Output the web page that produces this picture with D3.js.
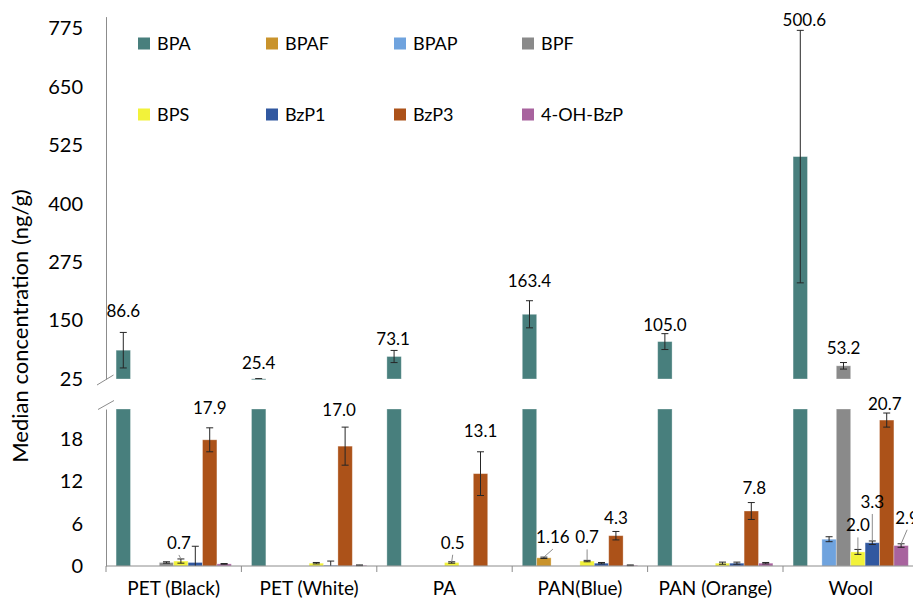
<!DOCTYPE html>
<html lang="en">
<head>
<meta charset="UTF-8">
<title>Median concentration by fabric</title>
<script src="https://d3js.org/d3.v7.min.js"></script>
<style>
    body { margin: 0; background: #fff; }
    svg { display: block; font-family: Lato, "Open Sans", sans-serif; }
</style>
</head>
<body>
<div id="canvas"></div>
<script>

// categories and series
const groups = ["PET (Black)", "PET (White)", "PA", "PAN(Blue)", "PAN (Orange)", "Wool"];
const series = ["BPA", "BPAF", "BPAP", "BPF", "BPS", "BzP1", "BzP3", "4-OH-BzP"];
const colors = ["#487f7d", "#c9932c", "#6fa3de", "#8a8a8a", "#f2f23a", "#3158a0", "#ac5219", "#a8639e"];

// median concentration (ng/g), one value per group
const BPA   = [86.6, 25.4, 73.1, 163.4, 105.0, 500.6];
const BPAF  = [0, 0, 0, 1.16, 0, 0];
const BPAP  = [0, 0, 0, 0, 0, 3.8];
const BPF   = [0.5, 0, 0, 0, 0, 53.2];
const BPS   = [0.7, 0.4, 0.5, 0.7, 0.4, 2.0];
const BzP1  = [0.5, 0.1, 0, 0.4, 0.4, 3.3];
const BzP3  = [17.9, 17.0, 13.1, 4.3, 7.8, 20.7];
const OHBzP = [0.3, 0.1, 0, 0.1, 0.4, 2.9];

// error bar half widths (ng/g)
const BPA_err   = [38, 0.5, 13, 29, 17, 270];
const BPAF_err  = [0, 0, 0, 0.1, 0, 0];
const BPAP_err  = [0, 0, 0, 0, 0, 0.35];
const BPF_err   = [0.1, 0, 0, 0, 0, 7];
const BPS_err   = [0.3, 0.1, 0.1, 0.1, 0.15, 0.35];
const BzP1_err  = [2.3, 0.6, 0, 0.1, 0.15, 0.25];
const BzP3_err  = [1.7, 2.7, 3.1, 0.6, 1.2, 1.0];
const OHBzP_err = [0.05, 0.05, 0, 0.05, 0.1, 0.25];

// axis ticks
const topTicks = [25, 150, 275, 400, 525, 650, 775];
const botTicks = [0, 6, 12, 18];

// value labels: [group, series, text]
const labelTexts = [
    ["PET (Black)", "BPA", "86.6"], ["PET (White)", "BPA", "25.4"], ["PA", "BPA", "73.1"],
    ["PAN(Blue)", "BPA", "163.4"], ["PAN (Orange)", "BPA", "105.0"], ["Wool", "BPA", "500.6"],
    ["Wool", "BPF", "53.2"], ["PET (Black)", "BzP3", "17.9"], ["PET (White)", "BzP3", "17.0"],
    ["PET (Black)", "BPS", "0.7"], ["PA", "BzP3", "13.1"], ["PA", "BPS", "0.5"],
    ["PAN(Blue)", "BPAF", "1.16"], ["PAN(Blue)", "BPS", "0.7"], ["PAN(Blue)", "BzP3", "4.3"],
    ["PAN (Orange)", "BzP3", "7.8"], ["Wool", "BzP3", "20.7"], ["Wool", "BPS", "2.0"],
    ["Wool", "BzP1", "3.3"], ["Wool", "4-OH-BzP", "2.9"]
];
// label placement: [dx, dy from error bar top, leader line]
const labelNudge = [
    [0, -21, false], [0, -16, false], [-1, -11, false],
    [0, -20, false], [0, -9, false], [4, -10, false],
    [0, -14, false], [0, -20, false], [-6, -17, false],
    [-2, -16, true], [0, -21, false], [1, -19, true],
    [9, -20, true], [0, -23, true], [0, -13, false],
    [3, -15, false], [-2, -9, false], [0, -24, true],
    [0, -39, true], [6, -26, true]
];

const medians = [BPA, BPAF, BPAP, BPF, BPS, BzP1, BzP3, OHBzP];
const errors = [BPA_err, BPAF_err, BPAP_err, BPF_err, BPS_err, BzP1_err, BzP3_err, OHBzP_err];

const rows = [];
series.forEach((s, i) => {
    groups.forEach((g, j) => {
        rows.push({ g: g, s: s, v: medians[i][j], e: errors[i][j], c: colors[i] });
    });
});

const width = 913, height = 601;
const axisX = 106;
const breakVal = 25;

const svg = d3.select('#canvas').append('svg')
    .attr('width', width)
    .attr('height', height);

const x0 = d3.scaleBand().domain(groups).range([axisX, axisX + 6 * 135.4]);
const x1 = d3.scaleBand().domain(series).range([0, x0.bandwidth()]).paddingInner(0).paddingOuter(0.7);

const yTop = d3.scaleLinear().domain([25, 800]).range([379, 16.6]);
const yBot = d3.scaleLinear().domain([0, 22.27]).range([566, 409]);
const botMax = yBot.domain()[1];

const scaleFor = d => d.v > breakVal ? yTop : yBot;
const cx = d => x0(d.g) + x1(d.s) + x1.bandwidth() / 2;

// bottom panel bars
svg.append('g').selectAll('rect')
    .data(rows.filter(d => d.v > 0))
    .enter().append('rect')
    .attr('x', d => x0(d.g) + x1(d.s))
    .attr('y', d => yBot(Math.min(d.v, botMax)))
    .attr('width', x1.bandwidth())
    .attr('height', d => yBot(0) - yBot(Math.min(d.v, botMax)))
    .attr('fill', d => d.c)
    .attr('stroke', '#fff').attr('stroke-opacity', 0.4).attr('stroke-width', 0.8);

// top panel bars
svg.append('g').selectAll('rect')
    .data(rows.filter(d => d.v > breakVal))
    .enter().append('rect')
    .attr('x', d => x0(d.g) + x1(d.s))
    .attr('y', d => yTop(d.v))
    .attr('width', x1.bandwidth())
    .attr('height', d => Math.max(1, yTop(breakVal) - yTop(d.v)))
    .attr('fill', d => d.c)
    .attr('stroke', '#fff').attr('stroke-opacity', 0.4).attr('stroke-width', 0.8);

// error bars
const eb = svg.append('g').attr('stroke', '#262626').attr('stroke-width', 1).attr('fill', 'none');
rows.filter(d => d.e > 0).forEach(d => {
    const y = scaleFor(d);
    const lo = Math.max(d.v - d.e, d.v > breakVal ? breakVal : 0);
    const hi = d.v + d.e;
    const x = cx(d);
    eb.append('line').attr('x1', x).attr('x2', x).attr('y1', y(lo)).attr('y2', y(hi));
    eb.append('line').attr('x1', x - 3.5).attr('x2', x + 3.5).attr('y1', y(hi)).attr('y2', y(hi));
    if (d.v - d.e > (d.v > breakVal ? breakVal : 0))
        eb.append('line').attr('x1', x - 3.5).attr('x2', x + 3.5).attr('y1', y(lo)).attr('y2', y(lo));
});

// y axes
const topAxis = svg.append('g').attr('transform', `translate(${axisX},0)`)
    .call(d3.axisLeft(yTop).tickValues(topTicks).tickSize(0).tickPadding(23).tickSizeOuter(0));
const botAxis = svg.append('g').attr('transform', `translate(${axisX},0)`)
    .call(d3.axisLeft(yBot).tickValues(botTicks).tickSize(0).tickPadding(23).tickSizeOuter(0));
[topAxis, botAxis].forEach(a => {
    a.select('.domain').attr('stroke', '#8c8c8c');
    a.selectAll('text').attr('font-size', 20).attr('font-family', 'Lato, sans-serif').attr('fill', '#000');
});

// axis break marks
const brk = svg.append('g').attr('stroke', '#8c8c8c').attr('stroke-width', 1);
brk.append('line').attr('x1', 97).attr('y1', 385).attr('x2', 113.5).attr('y2', 375);
brk.append('line').attr('x1', 98).attr('y1', 409.5).attr('x2', 114).attr('y2', 400.5);

// x axis
const xg = svg.append('g').attr('stroke', '#8c8c8c').attr('stroke-width', 1);
xg.append('line').attr('x1', axisX).attr('x2', width).attr('y1', yBot(0)).attr('y2', yBot(0));
xg.selectAll('.tk').data(groups).enter().append('line')
    .attr('x1', d => x0(d)).attr('x2', d => x0(d))
    .attr('y1', yBot(0)).attr('y2', yBot(0) + 6);

svg.append('g').selectAll('text')
    .data(groups).enter().append('text')
    .attr('x', d => x0(d) + x0.bandwidth() / 2)
    .attr('y', 595)
    .attr('text-anchor', 'middle')
    .attr('font-size', 19)
    .text(d => d);

// y axis title
svg.append('text')
    .attr('transform', 'translate(28,326) rotate(-90)')
    .attr('text-anchor', 'middle')
    .attr('font-size', 22)
    .text('Median concentration (ng/g)');

// value labels
const lab = svg.append('g');
labelTexts.forEach((l, i) => {
    const d = rows.find(r => r.g === l[0] && r.s === l[1]);
    const y = scaleFor(d);
    const top = y(d.v + d.e);
    const n = labelNudge[i];
    const tx = cx(d) + n[0], ty = top + n[1];
    lab.append('text')
        .attr('x', tx).attr('y', ty).attr('dy', '0.35em')
        .attr('text-anchor', 'middle')
        .attr('font-size', 17)
        .text(l[2]);
    if (n[2]) {
        lab.append('line')
            .attr('x1', tx).attr('y1', ty + 12)
            .attr('x2', cx(d)).attr('y2', top)
            .attr('stroke', '#8c8c8c').attr('stroke-width', 1);
    }
});

// legend
const leg = svg.append('g').selectAll('g')
    .data(series).enter().append('g')
    .attr('transform', (d, i) => `translate(${138 + (i % 4) * 128},${37.5 + Math.floor(i / 4) * 71})`);
leg.append('rect').attr('width', 12).attr('height', 12).attr('fill', (d, i) => colors[i]);
leg.append('text').attr('x', 19).attr('y', 6).attr('dy', '0.35em').attr('font-size', 18).text(d => d);

</script>
</body>
</html>
